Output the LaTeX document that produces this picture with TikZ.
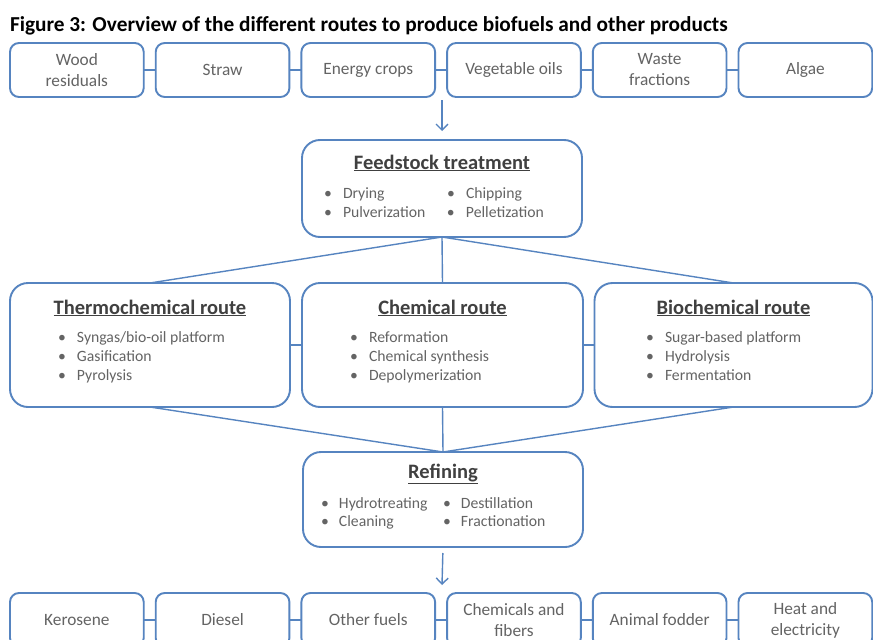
\documentclass[tikz,border=0pt]{standalone}
\usepackage{fontspec}
\setmainfont{Carlito}
\usetikzlibrary{arrows.meta}
\definecolor{frame}{RGB}{86,132,192}
\definecolor{label}{RGB}{100,100,100}
\definecolor{head}{RGB}{64,64,64}
\newcommand{\bul}{\makebox[19pt][l]{\textbullet}}
\begin{document}
\begin{tikzpicture}[x=1pt,y=-1pt,
  every node/.style={inner sep=0pt,outer sep=0pt},
  smallbox/.style={draw=frame,line width=1.9pt,rounded corners=9pt,
    minimum width=133.7pt,minimum height=54pt,text=label,fill=white,
    font=\fontsize{17.3}{21}\selectfont,align=center},
  bigbox/.style={draw=frame,line width=1.9pt,rounded corners=18pt,fill=white},
  boxtitle/.style={text=head,font=\bfseries\fontsize{20.5}{23}\selectfont},
  items/.style={text=label,font=\fontsize{15.7}{19}\selectfont,anchor=base west},
  link/.style={draw=frame,line width=1.4pt},
  flow/.style={link,-{Straight Barb[length=6pt,width=12pt,line width=1.4pt]}}]
\useasboundingbox (0,0) rectangle (873,640);
\fill[white] (0,0) rectangle (873,640);
\clip (0,0) rectangle (873,640);

% heading
\node[anchor=base west,font=\bfseries\fontsize{21.3}{24}\selectfont] (caption) at (10,31)
  {Figure 3: Overview of the different routes to produce biofuels and other products};

% feedstock row
\node[smallbox] (f1) at (76.85,70)  {Wood\\residuals};
\node[smallbox] (f2) at (222.55,70) {Straw};
\node[smallbox] (f3) at (368.25,70) {Energy crops};
\node[smallbox] (f4) at (513.95,70) {Vegetable oils};
\node[smallbox] (f5) at (659.65,70) {Waste\\fractions};
\node[smallbox] (f6) at (805.35,70) {Algae};
\foreach \a/\b in {f1/f2,f2/f3,f3/f4,f4/f5,f5/f6}
  \draw[link] (\a.east) -- (\b.west);

% feedstock treatment
\node[bigbox,minimum width=280pt,minimum height=97pt] (feed) at (442,188.5) {};
\node[boxtitle] (feedT) at (442,163) {\underline{Feedstock treatment}};
\node[items] (feedL) at (324,198.5) {\begin{tabular}[t]{@{}l@{}}
  \bul\makebox[104pt][l]{Drying}\bul Chipping\\
  \bul\makebox[104pt][l]{Pulverization}\bul Pelletization
\end{tabular}};
\coordinate (inflow) at (442,100);
\draw[flow,shorten >=9pt] (inflow) -- (feed.north);

% conversion routes
\node[bigbox,minimum width=280pt,minimum height=124pt] (thermo) at (150,345) {};
\node[bigbox,minimum width=281pt,minimum height=124pt] (chem) at (442.5,345) {};
\node[bigbox,minimum width=278pt,minimum height=124pt] (bio) at (733.5,345) {};
\node[boxtitle] (thermoT) at (150,308) {\underline{Thermochemical route}};
\node[boxtitle] (chemT) at (442.5,308) {\underline{Chemical route}};
\node[boxtitle] (bioT) at (733.5,308) {\underline{Biochemical route}};
\node[items] (thermoL) at (58,342) {\begin{tabular}[t]{@{}l@{}}
  \bul Syngas/bio-oil platform\\ \bul Gasification\\ \bul Pyrolysis\end{tabular}};
\node[items] (chemL) at (350,342) {\begin{tabular}[t]{@{}l@{}}
  \bul Reformation\\ \bul Chemical synthesis\\ \bul Depolymerization\end{tabular}};
\node[items] (bioL) at (646,342) {\begin{tabular}[t]{@{}l@{}}
  \bul Sugar-based platform\\ \bul Hydrolysis\\ \bul Fermentation\end{tabular}};

% refining
\node[bigbox,minimum width=280pt,minimum height=95pt] (refine) at (443,499.5) {};
\node[boxtitle] (refineT) at (443,474) {\underline{Refining}};
\node[items] (refineL) at (321,508) {\begin{tabular}[t]{@{}l@{}}
  \makebox[18pt][l]{\textbullet}\makebox[104pt][l]{Hydrotreating}\makebox[18pt][l]{\textbullet}Destillation\\[-1pt]
  \makebox[18pt][l]{\textbullet}\makebox[104pt][l]{Cleaning}\makebox[18pt][l]{\textbullet}Fractionation
\end{tabular}};

% links between stages
\draw[link] (feed.south) -- (thermo.north);
\draw[link] (feed.south) -- (chem.north);
\draw[link] (feed.south) -- (bio.north);
\draw[link] (thermo.south) -- (refine.north);
\draw[link] (chem.south) -- (refine.north);
\draw[link] (bio.south) -- (refine.north);
\draw[link] (thermo.east) -- (chem.west);
\draw[link] (chem.east) -- (bio.west);

% product row
\coordinate (outflow) at (442,585);
\draw[flow,shorten <=6pt] (refine.south) -- (outflow);
\node[smallbox] (p1) at (76.85,620)  {Kerosene};
\node[smallbox] (p2) at (222.55,620) {Diesel};
\node[smallbox] (p3) at (368.25,620) {Other fuels};
\node[smallbox] (p4) at (513.95,620) {Chemicals and\\fibers};
\node[smallbox] (p5) at (659.65,620) {Animal fodder};
\node[smallbox] (p6) at (805.35,620) {Heat and\\electricity};
\foreach \a/\b in {p1/p2,p2/p3,p3/p4,p4/p5,p5/p6}
  \draw[link] (\a.east) -- (\b.west);
\end{tikzpicture}
\end{document}
